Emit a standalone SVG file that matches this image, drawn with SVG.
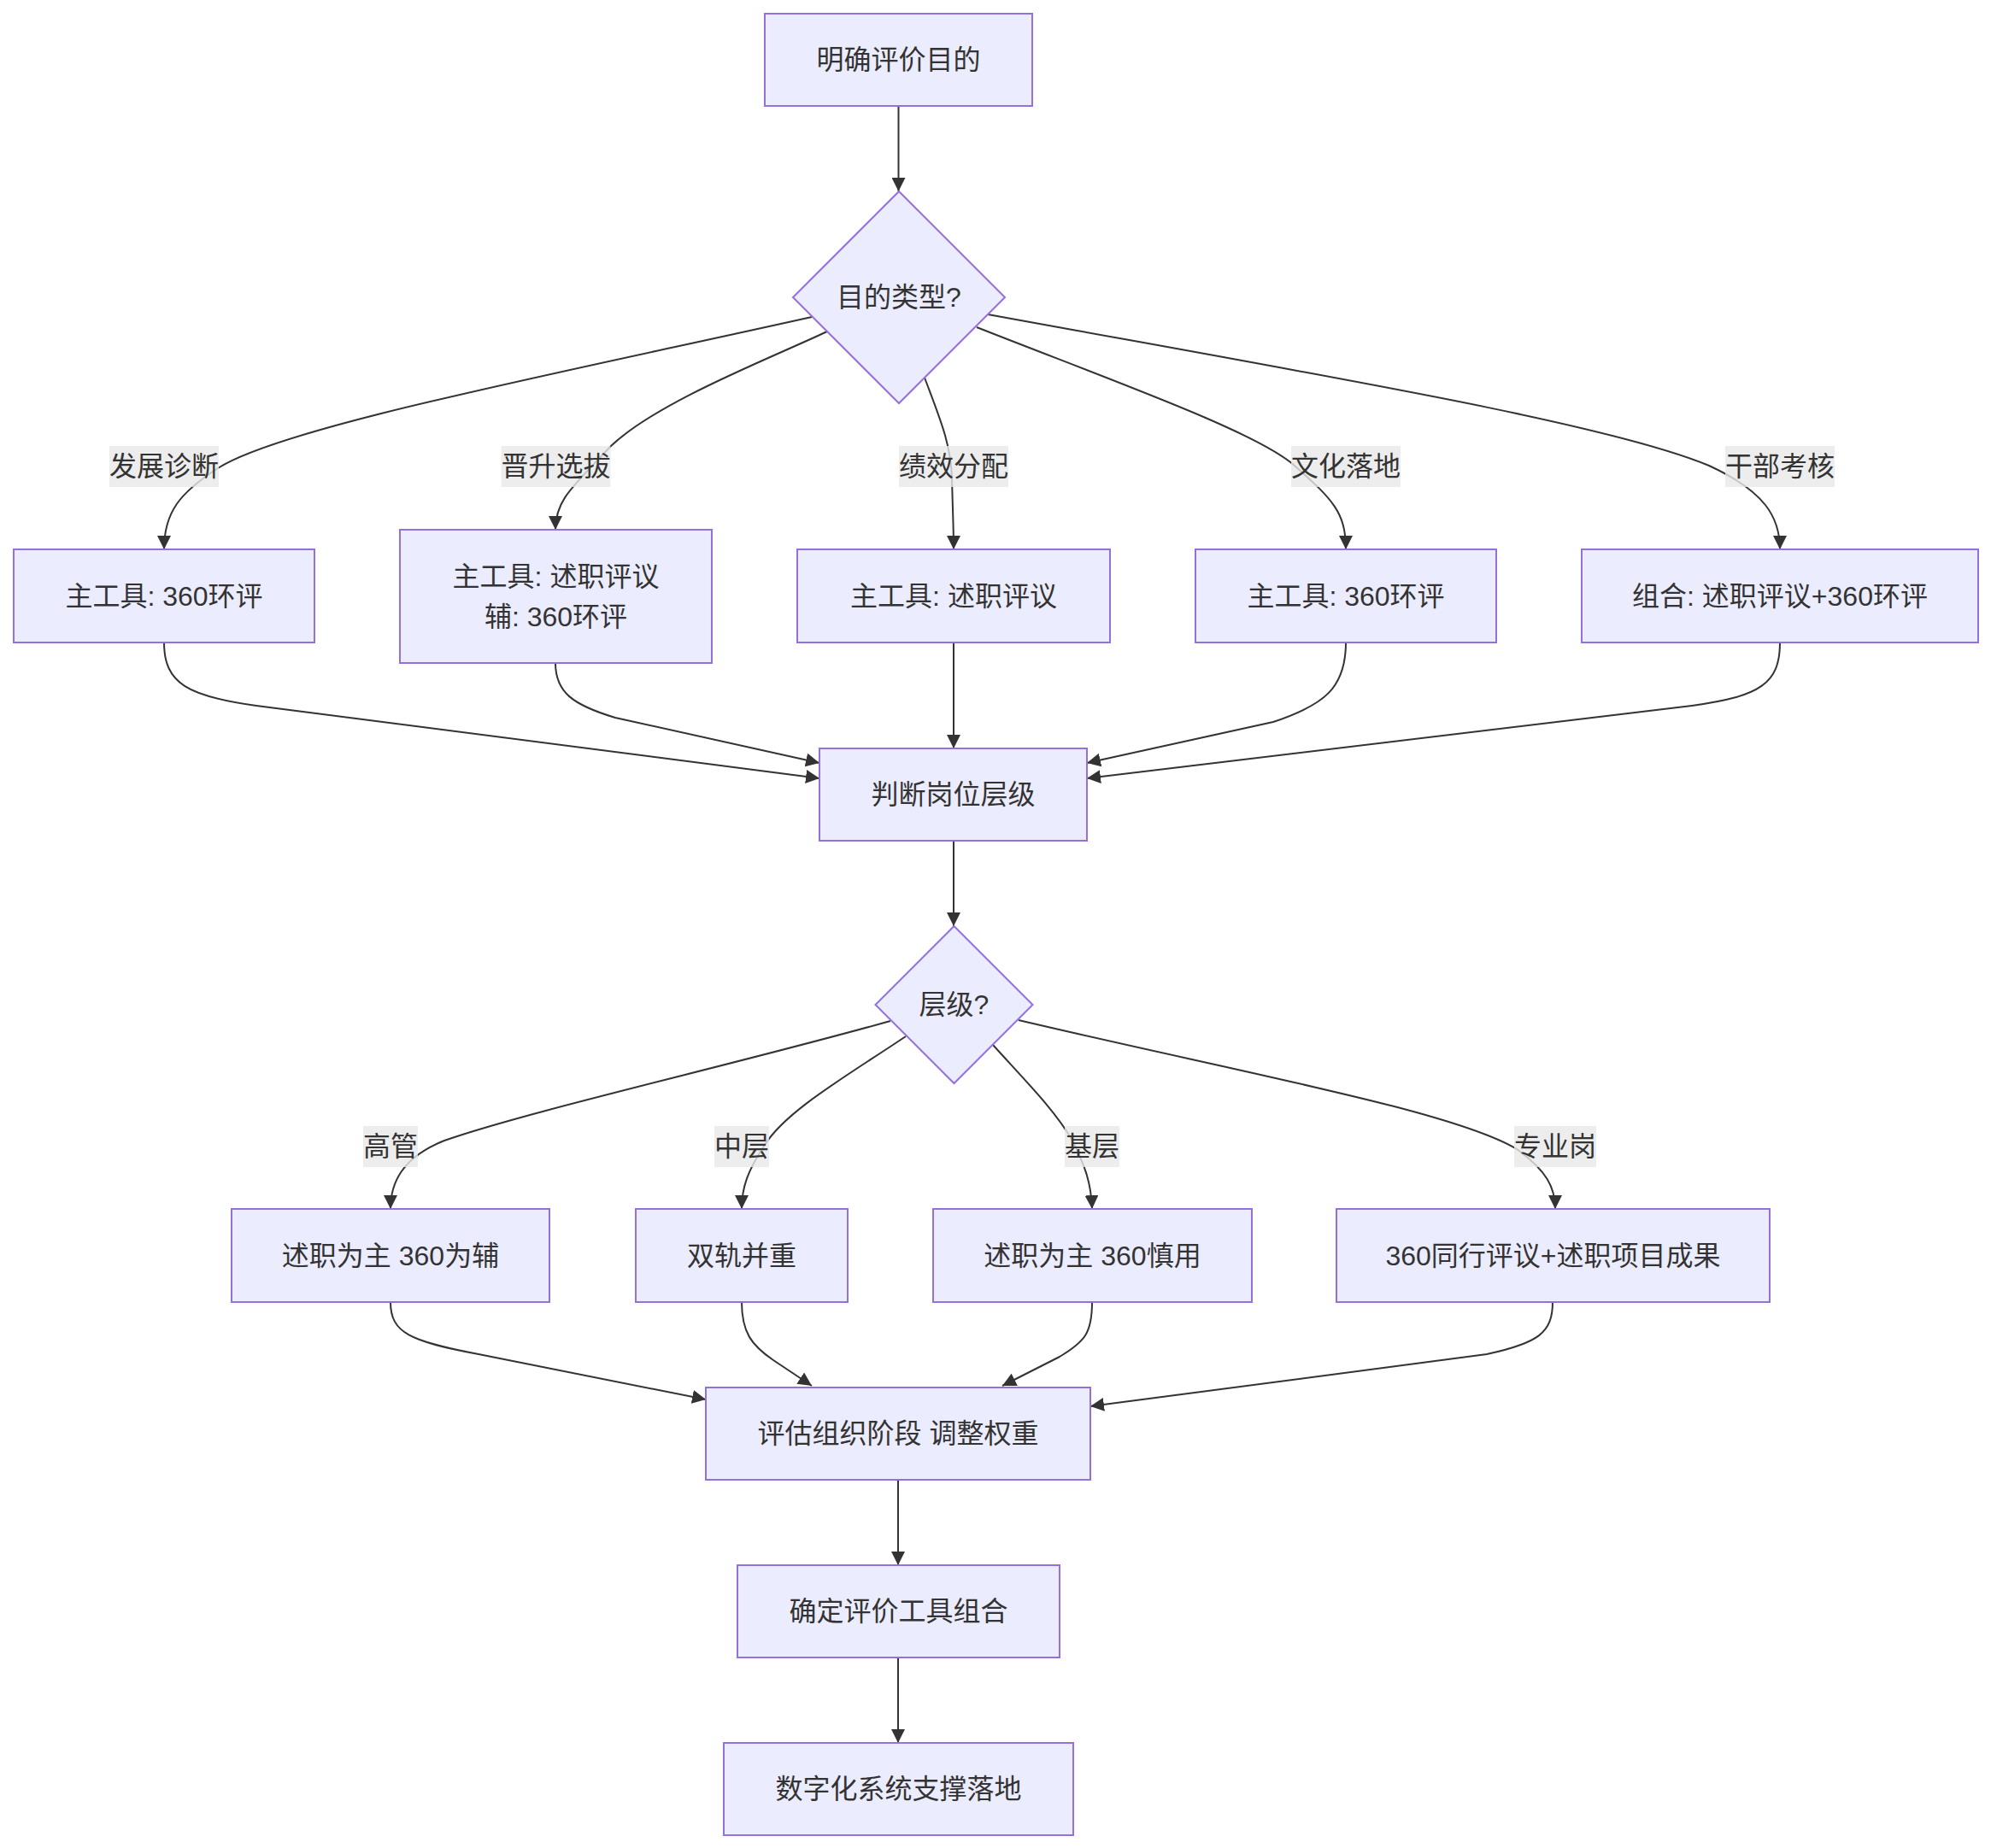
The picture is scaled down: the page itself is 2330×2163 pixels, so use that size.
<svg xmlns="http://www.w3.org/2000/svg" width="2330" height="2163" viewBox="0 0 2330 2163">
<style>
.node rect,.node polygon{fill:#ECECFF;stroke:#9370DB;stroke-width:2}
.node text,.lbl text{font-family:"Liberation Sans","Noto Sans CJK SC",sans-serif;font-size:32px;fill:#333;text-anchor:middle;dominant-baseline:central}
.edges path{fill:none;stroke:#333;stroke-width:2;marker-end:url(#arr)}
.lbl rect{fill:#e8e8e8;opacity:0.8}
</style>
<defs>
<marker id="arr" viewBox="0 0 10 10" refX="10" refY="5" markerUnits="userSpaceOnUse" markerWidth="16" markerHeight="16" orient="auto">
<path d="M0,0 L10,5 L0,10 z" fill="#333"/>
</marker>
</defs>
<rect width="2330" height="2163" fill="#fff"/>
<g class="edges">
<path d="M1051.5,124 L1051.5,224"/>
<path d="M950,371 C640,440 330,500 255,548 C210,577 192,600 192,643"/>
<path d="M968,388 C900,420 770,470 715,522 C670,570 650,585 650,620"/>
<path d="M1082,442 C1100,490 1113,520 1114,560 C1115,600 1116,620 1116,643"/>
<path d="M1143,383 C1300,445 1470,505 1515,545 C1560,585 1575,600 1575,643"/>
<path d="M1156,368 C1550,440 1880,495 2000,545 C2065,575 2083,605 2083,643"/>
<path d="M192,752 C192,800 220,815 300,826 L959,911"/>
<path d="M650,776 C650,810 670,825 720,840 L959,893"/>
<path d="M1116,752 L1116,876"/>
<path d="M1575,752 C1575,805 1550,825 1490,845 L1272,893"/>
<path d="M2083,752 C2083,800 2060,815 1980,826 L1272,911"/>
<path d="M1116,984 L1116,1084"/>
<path d="M1042,1195 C860,1246 620,1300 520,1335 C470,1355 457,1385 457,1415"/>
<path d="M1060,1213 C990,1260 920,1300 895,1340 C875,1370 868,1390 868,1415"/>
<path d="M1162,1223 C1200,1265 1235,1300 1255,1335 C1270,1365 1277,1385 1278,1415"/>
<path d="M1192,1194 C1450,1255 1700,1300 1775,1345 C1810,1370 1820,1390 1820,1415"/>
<path d="M457,1524 C457,1560 480,1570 560,1585 L826,1638"/>
<path d="M868,1524 C868,1560 880,1575 905,1592 L950,1622"/>
<path d="M1278,1524 C1278,1560 1270,1570 1240,1588 L1173,1622"/>
<path d="M1817,1524 C1817,1560 1800,1572 1740,1585 L1276,1646"/>
<path d="M1051,1731 L1051,1832"/>
<path d="M1051,1939 L1051,2040"/>
</g>
<g class="lbl">
<rect x="128" y="522" width="128" height="48"/><text x="192" y="546">发展诊断</text>
<rect x="586.5" y="522" width="128" height="48"/><text x="650.5" y="546">晋升选拔</text>
<rect x="1052" y="522" width="128" height="48"/><text x="1116" y="546">绩效分配</text>
<rect x="1511" y="522" width="128" height="48"/><text x="1575" y="546">文化落地</text>
<rect x="2019" y="522" width="128" height="48"/><text x="2083" y="546">干部考核</text>
<rect x="425" y="1318" width="64" height="48"/><text x="457" y="1342">高管</text>
<rect x="836" y="1318" width="64" height="48"/><text x="868" y="1342">中层</text>
<rect x="1246" y="1318" width="64" height="48"/><text x="1278" y="1342">基层</text>
<rect x="1772" y="1318" width="96" height="48"/><text x="1820" y="1342">专业岗</text>
</g>
<g id="n1" class="node"><rect x="895" y="16" width="313" height="108"/><text x="1051.5" y="70">明确评价目的</text></g>
<g id="d1" class="node"><polygon points="1052,224 1176,348 1052,472 928,348"/><text x="1052" y="348">目的类型?</text></g>
<g id="b1" class="node"><rect x="16" y="643" width="352" height="109"/><text x="192" y="697.5">主工具: 360环评</text></g>
<g id="b2" class="node"><rect x="468" y="620" width="365" height="156"/><text x="650.5" y="675">主工具: 述职评议</text><text x="650.5" y="722">辅: 360环评</text></g>
<g id="b3" class="node"><rect x="933" y="643" width="366" height="109"/><text x="1116" y="697.5">主工具: 述职评议</text></g>
<g id="b4" class="node"><rect x="1399" y="643" width="352" height="109"/><text x="1575" y="697.5">主工具: 360环评</text></g>
<g id="b5" class="node"><rect x="1851" y="643" width="464" height="109"/><text x="2083" y="697.5">组合: 述职评议+360环评</text></g>
<g id="n2" class="node"><rect x="959" y="876" width="313" height="108"/><text x="1115.5" y="930">判断岗位层级</text></g>
<g id="d2" class="node"><polygon points="1116.5,1084 1208.5,1176 1116.5,1268 1024.5,1176"/><text x="1116.5" y="1176">层级?</text></g>
<g id="c1" class="node"><rect x="271" y="1415" width="372" height="109"/><text x="457" y="1469.5">述职为主 360为辅</text></g>
<g id="c2" class="node"><rect x="744" y="1415" width="248" height="109"/><text x="868" y="1469.5">双轨并重</text></g>
<g id="c3" class="node"><rect x="1092" y="1415" width="373" height="109"/><text x="1278.5" y="1469.5">述职为主 360慎用</text></g>
<g id="c4" class="node"><rect x="1564" y="1415" width="507" height="109"/><text x="1817.5" y="1469.5">360同行评议+述职项目成果</text></g>
<g id="n3" class="node"><rect x="826" y="1624" width="450" height="108"/><text x="1051" y="1678">评估组织阶段 调整权重</text></g>
<g id="n4" class="node"><rect x="863" y="1832" width="377" height="108"/><text x="1051.5" y="1886">确定评价工具组合</text></g>
<g id="n5" class="node"><rect x="847" y="2040" width="409" height="108"/><text x="1051.5" y="2094">数字化系统支撑落地</text></g>
</svg>
